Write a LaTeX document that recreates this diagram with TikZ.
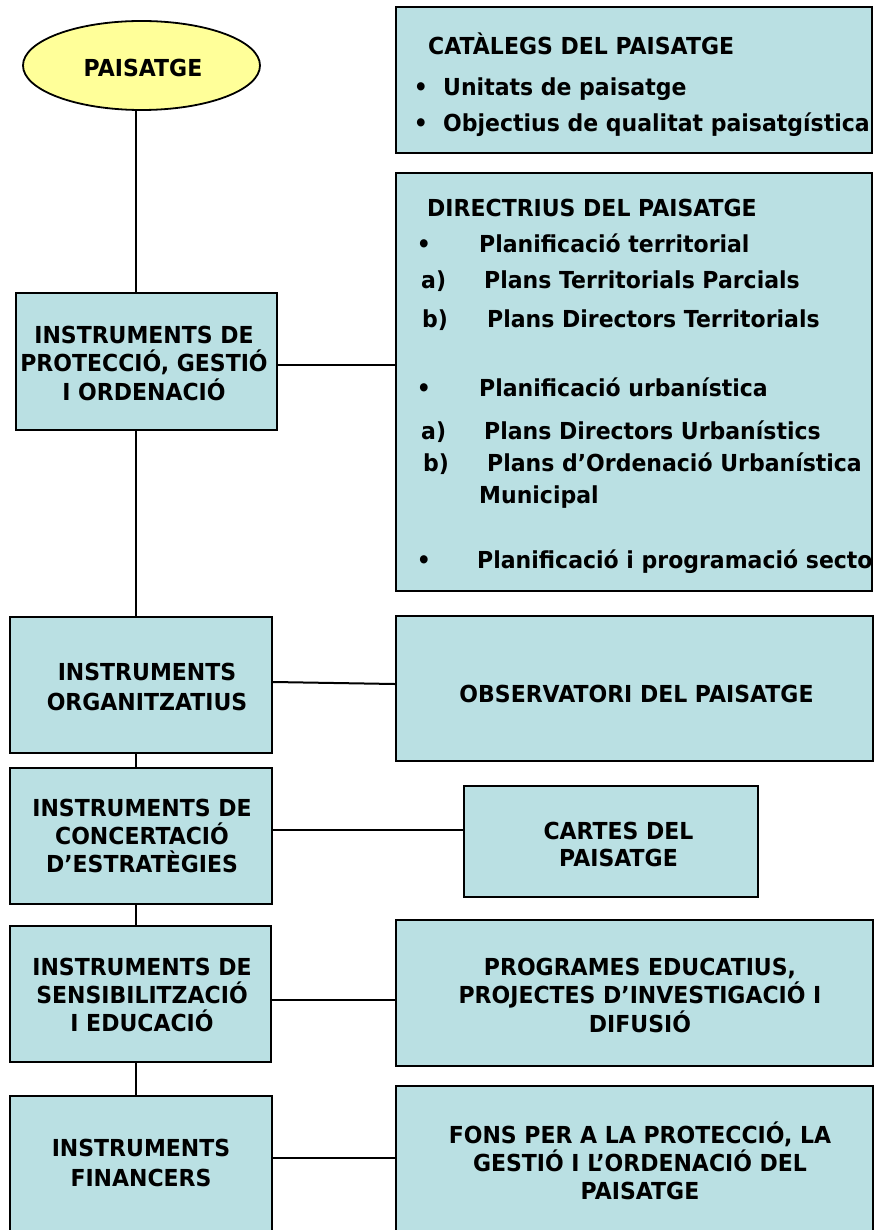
\documentclass[tikz,border=0pt]{standalone}
\usepackage{fontspec}
\newfontfamily\djf{DejaVu Sans}[FakeStretch=0.94]
\usetikzlibrary{shapes.geometric,decorations.pathmorphing}
\definecolor{boxfill}{RGB}{186,224,227}
\definecolor{ellfill}{RGB}{255,255,153}
\begin{document}
\begin{tikzpicture}[x=1pt,y=-1pt,
  font=\djf\bfseries\fontsize{23.4}{28.5}\selectfont,
  box/.style={draw, line width=2.4pt, fill=boxfill, rectangle, inner sep=0pt},
  conn/.style={line width=2pt},
  ctxt/.style={inner sep=0pt, anchor=base, align=center},
  ltxt/.style={inner sep=0pt, anchor=base west},
  btxt/.style={inner sep=0pt, anchor=base}]
\useasboundingbox (0,0) rectangle (880,1230);
\clip (0,0) rectangle (880,1230);
\coordinate (trunk) at (136,0);
% ellipse
\node[ellipse, draw, line width=1.8pt, fill=ellfill, minimum width=237pt, minimum height=89pt] (ell) at (141.5,65.5) {};
% boxes
\node[box, minimum width=476pt, minimum height=146pt] (cat) at (634,80) {};
\node[box, minimum width=476pt, minimum height=418pt] (dir) at (634,382) {};
\node[box, minimum width=261pt, minimum height=137pt] (b1) at (146.5,361.5) {};
\node[box, minimum width=262pt, minimum height=136pt] (org) at (141,685) {};
\node[box, minimum width=477pt, minimum height=145pt] (obs) at (634.5,688.5) {};
\node[box, minimum width=262pt, minimum height=136pt] (conc) at (141,836) {};
\node[box, minimum width=294pt, minimum height=111pt] (cartes) at (611,841.5) {};
\node[box, minimum width=261pt, minimum height=136pt] (sens) at (140.5,994) {};
\node[box, minimum width=477pt, minimum height=146pt] (prog) at (634.5,993) {};
\node[box, minimum width=262pt, minimum height=148pt] (fin) at (141,1170) {};
\node[box, minimum width=477pt, minimum height=158pt] (fons) at (634.5,1165) {};
% connectors
\draw[conn] (ell.south -| trunk) -- (b1.north -| trunk);
\draw[conn] (b1.south -| trunk) -- (org.north -| trunk);
\draw[conn] (org.south -| trunk) -- (conc.north -| trunk);
\draw[conn] (conc.south -| trunk) -- (sens.north -| trunk);
\draw[conn] (sens.south -| trunk) -- (fin.north -| trunk);
\draw[conn] ([yshift=-3.5pt]b1.east) -- ([yshift=-3.5pt]b1.east -| dir.west);
\draw[conn] ([yshift=3pt]org.east) -- ([yshift=4.5pt]obs.west);
\draw[conn] ([yshift=6pt]conc.east) -- ([yshift=6pt]conc.east -| cartes.west);
\draw[conn] ([yshift=-6pt]sens.east) -- ([yshift=-6pt]sens.east -| prog.west);
\draw[conn] ([yshift=12pt]fin.east) -- ([yshift=12pt]fin.east -| fons.west);
% texts (multi-line nodes: base = last line baseline)
\node[btxt] (ell-t) at (143,77) {PAISATGE};
\node[ctxt] (b1-t) at (144,400) {INSTRUMENTS DE\\PROTECCIÓ, GESTIÓ\\I ORDENACIÓ};
\node[ctxt, font=\djf\bfseries\fontsize{23.4}{30}\selectfont] (org-t) at (147,710) {INSTRUMENTS\\ORGANITZATIUS};
\node[ctxt, font=\djf\bfseries\fontsize{23.4}{28}\selectfont] (conc-t) at (142,872) {INSTRUMENTS DE\\CONCERTACIÓ\\D’ESTRATÈGIES};
\node[ctxt, font=\djf\bfseries\fontsize{23.4}{28}\selectfont] (sens-t) at (142,1031) {INSTRUMENTS DE\\SENSIBILITZACIÓ\\I EDUCACIÓ};
\node[ctxt, font=\djf\bfseries\fontsize{23.4}{30}\selectfont] (fin-t) at (141,1186) {INSTRUMENTS\\FINANCERS};
\node[btxt] (obs-t) at (636.5,702) {OBSERVATORI DEL PAISATGE};
\node[ctxt, font=\djf\bfseries\fontsize{23.4}{27}\selectfont] (cartes-t) at (618.5,866) {CARTES DEL\\PAISATGE};
\node[ctxt] (prog-t) at (640,1032) {PROGRAMES EDUCATIUS,\\PROJECTES D’INVESTIGACIÓ I\\DIFUSIÓ};
\node[ctxt, font=\djf\bfseries\fontsize{23.4}{28}\selectfont] (fons-t) at (640,1199) {FONS PER A LA PROTECCIÓ, LA\\GESTIÓ I L’ORDENACIÓ DEL\\PAISATGE};
% catalegs
\node[ltxt] (cat-t) at (428,55) {CATÀLEGS DEL PAISATGE};
\node[btxt] (cat-b1) at (421,96) {•};
\node[ltxt] (cat-l1) at (443,96) {Unitats de paisatge};
\node[btxt] (cat-b2) at (421,132) {•};
\node[ltxt] (cat-l2) at (443,132) {Objectius de qualitat paisatgística};
% directrius
\node[ltxt] (dir-t) at (427,217) {DIRECTRIUS DEL PAISATGE};
\node[btxt] (dir-b1) at (424,253) {•};
\node[ltxt] (dir-l1) at (479,253) {Planificació territorial};
\node[ltxt] (dir-a1) at (421,289) {a)};
\node[ltxt] (dir-l2) at (484,289) {Plans Territorials Parcials};
\node[ltxt] (dir-bb1) at (422,327) {b)};
\node[ltxt] (dir-l3) at (487,327) {Plans Directors Territorials};
\node[btxt] (dir-b2) at (424,396) {•};
\node[ltxt] (dir-l4) at (479,396) {Planificació urbanística};
\node[ltxt] (dir-a2) at (421,439) {a)};
\node[ltxt] (dir-l5) at (484,439) {Plans Directors Urbanístics};
\node[ltxt] (dir-bb2) at (423,471) {b)};
\node[ltxt] (dir-l6) at (487,471) {Plans d’Ordenació Urbanística};
\node[ltxt] (dir-l7) at (479,503) {Municipal};
\node[btxt] (dir-b3) at (424,568) {•};
\begin{scope}
\clip (dir.south west) rectangle ([xshift=-1.2pt]dir.north east);
\node[ltxt] (dir-l8) at (477,568) {Planificació i programació sector};
\end{scope}
\end{tikzpicture}
\end{document}
